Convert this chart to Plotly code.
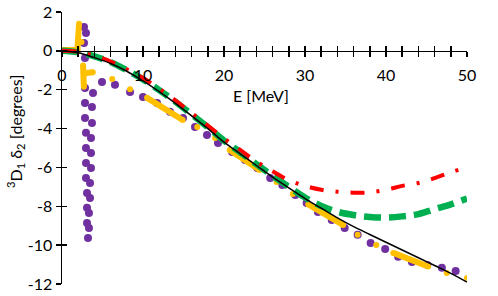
import plotly.graph_objects as go

# ---------------- data ----------------
E_grid = [0, 2, 4, 6, 8, 10, 12, 14, 16, 18, 20, 22, 24, 26, 28, 30, 32, 34, 36, 38, 40, 42, 44, 46, 48, 50]
black_delta = [0, -0.1, -0.35, -0.65, -1.05, -1.55, -2.1, -2.7, -3.35, -4.0, -4.7, -5.3, -5.9, -6.5,
               -7.05, -7.6, -8.1, -8.6, -9.05, -9.45, -9.85, -10.25, -10.65, -11.05, -11.45, -11.9]
green_delta = [0, -0.08, -0.28, -0.58, -1.0, -1.47, -2.02, -2.62, -3.27, -3.93, -4.62, -5.22, -5.83, -6.43,
               -7.0, -7.55, -7.98, -8.28, -8.45, -8.55, -8.58, -8.52, -8.4, -8.15, -7.9, -7.6]
red_delta = [0, -0.05, -0.25, -0.55, -0.95, -1.4, -1.95, -2.55, -3.2, -3.85, -4.5, -5.1, -5.7, -6.2,
             -6.65, -6.95, -7.15, -7.25, -7.3, -7.28, -7.15, -6.95, -6.8, -6.55, -6.25, -6.0]

purple_E = [2.72, 2.96, 2.72, 2.84, 2.84, 3.83, 2.84, 3.70, 2.84, 3.70, 2.96, 3.58, 2.96, 3.58, 2.96, 3.58,
            2.96, 3.46, 3.09, 3.46, 3.09, 3.33, 3.09, 3.33, 3.21,
            4.94, 6.54, 8.40, 10.0, 11.73, 13.33, 14.94, 16.42, 17.9, 19.26, 21.0, 22.6, 24.1, 25.7,
            27.2, 28.8, 30.2, 31.6, 33.3, 34.9, 36.5, 38.1, 39.9, 41.5, 43.2, 45.1, 46.9, 48.6]
purple_delta = [1.23, 0.92, 0.41, -0.37, -1.91, -2.17, -2.68, -2.89, -3.45, -3.71, -4.22, -4.48, -5.0, -5.26,
                -5.77, -6.03, -6.54, -6.8, -7.31, -7.57, -8.08, -8.34, -8.86, -9.12, -9.63,
                -1.60, -1.75, -2.12, -2.37, -2.68, -3.14, -3.45, -3.92, -4.33, -4.74, -5.2, -5.62, -6.03,
                -6.54, -6.9, -7.42, -7.83, -8.29, -8.7, -9.12, -9.47, -9.89, -10.2, -10.6, -10.87,
                -11.02, -11.17, -11.33]

# dense orange runs (drawn as thick segments), separated by None
orange_run_E = [0, 1.9, 2.1, None, 2.6, 2.7, None, 2.7, 3.8, None, 10.5, 14.9, None,
                20.7, 24.4, None, 30.4, 34.7, None, 40.9, 45.2]
orange_run_delta = [0.05, 0.05, 1.4, None, -0.75, -1.85, None, -1.15, -1.1, None, -2.42, -3.56, None,
                    -5.1, -6.13, None, -7.9, -8.96, None, -10.4, -11.1]
orange_dot_E = [2.4, 6.2, 8.4, 16.7, 18.9, 26.5, 28.5, 36.5, 38.8, 47.5, 50.0]
orange_dot_delta = [0.45, -1.45, -1.97, -3.92, -4.48, -6.75, -7.37, -9.47, -9.99, -11.43, -11.69]

x_ticks = [0, 10, 20, 30, 40, 50]
y_ticks = [2, 0, -2, -4, -6, -8, -10, -12]

# ---------------- figure ----------------
FONT = "Lato, 'Liberation Sans', Arial, sans-serif"
fig = go.Figure()

fig.add_trace(go.Scatter(x=purple_E, y=purple_delta, mode="markers",
                         marker=dict(color="#7030A0", size=8), hoverinfo="skip"))
fig.add_trace(go.Scatter(x=orange_run_E, y=orange_run_delta, mode="lines+markers",
                         line=dict(color="#FFC000", width=6), marker=dict(color="#FFC000", size=6),
                         connectgaps=False, hoverinfo="skip"))
fig.add_trace(go.Scatter(x=orange_dot_E, y=orange_dot_delta, mode="markers",
                         marker=dict(color="#FFC000", size=6), hoverinfo="skip"))
fig.add_trace(go.Scatter(x=E_grid, y=green_delta, mode="lines", line_shape="spline",
                         line=dict(color="#00B050", width=6.5, dash="17px,8px"), hoverinfo="skip"))
fig.add_trace(go.Scatter(x=E_grid, y=red_delta, mode="lines", line_shape="spline",
                         line=dict(color="#FF0000", width=4, dash="14px,12px,3px,12px"), hoverinfo="skip"))
fig.add_trace(go.Scatter(x=E_grid, y=black_delta, mode="lines", line_shape="spline",
                         line=dict(color="black", width=1.5), hoverinfo="skip"))
# dummy trace so the overlay axes (inner half of crossing ticks) are drawn
fig.add_trace(go.Scatter(x=[None], y=[None], xaxis="x2", yaxis="y2", showlegend=False, hoverinfo="skip"))

zero_pos = (0 - (-12)) / (2 - (-12))

fig.update_layout(
    width=498, height=296,
    margin=dict(l=62, r=31, t=12, b=12, autoexpand=False),
    paper_bgcolor="white", plot_bgcolor="white",
    showlegend=False,
    font=dict(family=FONT, size=16, color="black"),
    xaxis=dict(range=[0, 50], tickvals=x_ticks, ticktext=[str(v) for v in x_ticks],
               anchor="free", position=zero_pos, showline=True, linecolor="black", linewidth=1.5,
               ticks="outside", ticklen=5, tickwidth=1.5, tickcolor="black",
               minor=dict(dtick=2, ticks="outside", ticklen=5, tickwidth=1.5, tickcolor="black", showgrid=False),
               showgrid=False, zeroline=False, ticklabelstandoff=4, automargin=False,
               tickfont=dict(size=16)),
    yaxis=dict(range=[-12, 2], tickvals=y_ticks, ticktext=[str(v) for v in y_ticks],
               showline=True, linecolor="black", linewidth=1.5, automargin=False,
               ticks="outside", ticklen=5, tickwidth=1.5, tickcolor="black",
               showgrid=False, zeroline=False, tickfont=dict(size=16)),
    xaxis2=dict(range=[0, 50], overlaying="x", anchor="free", position=zero_pos, dtick=2, tick0=0,
                ticks="inside", ticklen=5, tickwidth=1.5, tickcolor="black", automargin=False,
                showticklabels=False, showline=False, showgrid=False, zeroline=False),
    yaxis2=dict(range=[-12, 2], overlaying="y", anchor="x2", side="left", dtick=2, tick0=0,
                ticks="inside", ticklen=5, tickwidth=1.5, tickcolor="black", automargin=False,
                showticklabels=False, showline=False, showgrid=False, zeroline=False),
    annotations=[
        dict(text="E [MeV]", xref="paper", yref="paper", x=0.491, y=0.692, showarrow=False,
             xanchor="center", yanchor="middle", font=dict(size=16)),
        dict(text="<sup>3</sup>D<sub>1</sub> δ<sub>2</sub> [degrees]", xref="paper", yref="paper",
             x=-0.116, y=0.5625, textangle=-90, showarrow=False,
             xanchor="center", yanchor="middle", font=dict(size=16)),
    ],
)

# remove the default page margin so the figure sits at the window's top-left corner
fig.write_html("out.html", config={"displayModeBar": False, "staticPlot": True},
               post_script="document.body.style.margin='0';document.body.style.overflow='hidden';")
